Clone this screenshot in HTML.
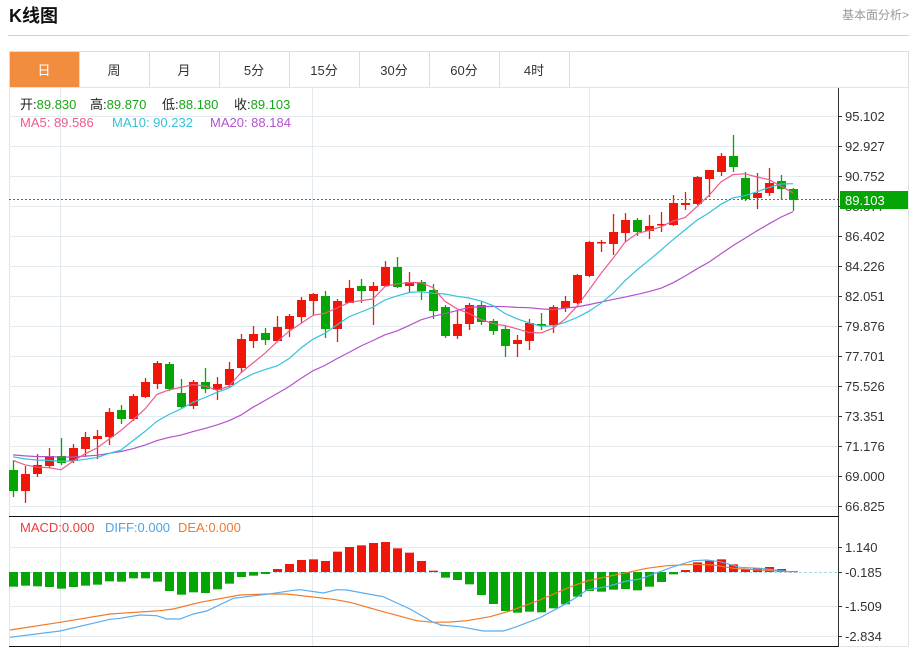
<!DOCTYPE html>
<html><head><meta charset="utf-8">
<style>
body{margin:0;background:#fff;width:916px;height:647px;overflow:hidden;font-family:"Liberation Sans","Noto Sans CJK SC",sans-serif;}
svg{position:absolute;left:0;top:0}
</style></head>
<body>
<svg id="s" width="916" height="647" xmlns="http://www.w3.org/2000/svg" font-family="Liberation Sans, Noto Sans CJK SC, sans-serif">
<text x="9" y="22" font-size="18" font-weight="bold" fill="#111">K线图</text>
<text x="842" y="19" font-size="12" fill="#999">基本面分析&gt;</text>
<line x1="8" y1="35.5" x2="909" y2="35.5" stroke="#d0d0d0"/>
<rect x="9.5" y="51.5" width="899" height="36" fill="#fff" stroke="#ddd"/>
<rect x="10" y="52" width="69" height="35" fill="#f28c3f"/>
<g stroke="#ddd"><line x1="79.5" y1="52" x2="79.5" y2="87"/><line x1="149.5" y1="52" x2="149.5" y2="87"/><line x1="219.5" y1="52" x2="219.5" y2="87"/><line x1="289.5" y1="52" x2="289.5" y2="87"/><line x1="359.5" y1="52" x2="359.5" y2="87"/><line x1="429.5" y1="52" x2="429.5" y2="87"/><line x1="499.5" y1="52" x2="499.5" y2="87"/><line x1="569.5" y1="52" x2="569.5" y2="87"/></g>
<g font-size="13" text-anchor="middle" fill="#333">
<text x="44" y="75" fill="#fff">日</text><text x="114" y="75">周</text><text x="184" y="75">月</text><text x="254" y="75">5分</text><text x="324" y="75">15分</text><text x="394" y="75">30分</text><text x="464" y="75">60分</text><text x="534" y="75">4时</text>
</g>
<rect x="9.5" y="87.5" width="899" height="559" fill="none" stroke="#e4e4e4"/>
<g id="grid"></g>
<g id="plot"></g>
<line x1="838.5" y1="88" x2="838.5" y2="647" stroke="#333"/>
<line x1="9" y1="516.5" x2="838" y2="516.5" stroke="#111"/>
<line x1="9" y1="646.5" x2="838" y2="646.5" stroke="#111"/>
<g font-size="13">
<text x="20" y="109" fill="#222">开:<tspan fill="#1aa51a">89.830</tspan></text>
<text x="90" y="109" fill="#222">高:<tspan fill="#1aa51a">89.870</tspan></text>
<text x="162" y="109" fill="#222">低:<tspan fill="#1aa51a">88.180</tspan></text>
<text x="234" y="109" fill="#222">收:<tspan fill="#1aa51a">89.103</tspan></text>
<text x="20" y="127" fill="#ef5b8a">MA5: 89.586</text>
<text x="112" y="127" fill="#33c3da">MA10: 90.232</text>
<text x="210" y="127" fill="#b452cc">MA20: 88.184</text>
<text x="20" y="532" fill="#ef3b3b">MACD:0.000</text>
<text x="105" y="532" fill="#4aa3e8">DIFF:0.000</text>
<text x="178" y="532" fill="#f07a28">DEA:0.000</text>
</g>
<g id="axis" font-size="13" fill="#333"></g>
</svg>
<script>
var NS="http://www.w3.org/2000/svg";
function el(p,t,a){var e=document.createElementNS(NS,t);for(var k in a)e.setAttribute(k,a[k]);p.appendChild(e);return e;}
var grid=document.getElementById('grid'),plot=document.getElementById('plot'),axis=document.getElementById('axis');
var labels=["95.102","92.927","90.752","88.577","86.402","84.226","82.051","79.876","77.701","75.526","73.351","71.176","69.000","66.825"];
for(var i=0;i<14;i++){var y=116+30*i;el(grid,'line',{x1:9,y1:y+.5,x2:838,y2:y+.5,stroke:'#e3ebf1'});el(axis,'line',{x1:838,y1:y+.5,x2:842,y2:y+.5,stroke:'#333'});var t=el(axis,'text',{x:845,y:y+5});t.textContent=labels[i];}
[[547,"1.140"],[606,"-1.509"],[636,"-2.834"]].forEach(function(a){el(grid,'line',{x1:9,y1:a[0]+.5,x2:838,y2:a[0]+.5,stroke:'#e3ebf1'});el(axis,'line',{x1:838,y1:a[0]+.5,x2:842,y2:a[0]+.5,stroke:'#333'});var t=el(axis,'text',{x:845,y:a[0]+5});t.textContent=a[1];});
el(axis,'line',{x1:838,y1:572.5,x2:842,y2:572.5,stroke:'#333'});var t0=el(axis,'text',{x:845,y:577});t0.textContent="-0.185";
[60.5,312.5,589.5].forEach(function(x){el(grid,'line',{x1:x,y1:88,x2:x,y2:646,stroke:'#e3ebf1'});});
el(grid,'line',{x1:9,y1:572.5,x2:838,y2:572.5,stroke:'#a8d8f0','stroke-dasharray':'3,2'});
// candles: [color(1=red up,0=green down), bodyTop, bodyBot, high, low]
var C=[[0,470,491,460,497],[1,474,491,466,503],[1,465,474,454,477],[1,456,466,448,468],[0,456,463,438,465],[1,448,461,444,463],[1,437,449,432,457],[1,436,439,430,459],[1,412,437,408,445],[0,410,419,405,424],
[1,396,419,394,421],[1,382,397,378,398],[1,363,384,361,389],[0,364,389,362,391],[0,393,407,379,408],[1,382,406,380,409],[0,382,389,368,393],[1,384,390,377,400],[1,369,385,362,388],[1,339,368,334,373],
[1,334,341,326,348],[0,333,340,328,345],[1,327,341,316,341],[1,316,329,314,337],[1,300,317,297,323],[1,294,301,293,315],[0,296,329,291,338],[1,301,329,299,342],[1,288,303,280,303],[0,286,291,279,303],
[1,286,291,282,325],[1,267,286,261,287],[0,267,287,257,288],[1,282,286,272,293],[0,282,291,280,300],[0,290,311,284,319],[0,307,336,305,338],[1,324,336,310,339],[1,305,324,303,330],[0,305,322,301,325],
[0,321,331,319,335],[0,329,346,326,357],[1,340,344,335,357],[1,323,341,319,350],[0,324,325,313,330],[1,307,325,305,333],[1,301,308,296,312],[1,275,303,274,304],[1,242,276,241,277],[1,242,243,240,252],
[1,232,244,214,255],[1,220,233,213,242],[0,220,232,218,236],[1,226,231,215,239],[1,224,225,212,232],[1,203,225,195,226],[1,203,205,192,210],[1,177,204,176,205],[1,170,179,170,197],[1,156,172,153,176],
[0,156,167,135,172],[0,178,199,172,201],[1,193,198,173,209],[1,183,193,168,196],[0,181,189,175,200],[0,189,200,188,211]];
var X=function(i){return 13+12*i;};
var closes=[];for(var k=0;k<19;k++)closes.push(452+ (k%3));
C.forEach(function(c){closes.push(c[0]?c[1]:c[2]);});
function ma(n){var pts=[];for(var i=0;i<C.length;i++){var j=i+19,s=0;for(var q=0;q<n;q++)s+=closes[j-q];pts.push(X(i)+','+(s/n).toFixed(1));}return pts.join(' ');}
C.forEach(function(c,i){var col=c[0]?'#f0170a':'#05a505';var x=X(i);
el(plot,'line',{x1:x+.5,y1:c[3],x2:x+.5,y2:c[4],stroke:col,'stroke-width':1.3});
el(plot,'rect',{x:x-4,y:c[1],width:9,height:Math.max(1.5,c[2]-c[1]),fill:col});});
el(plot,'polyline',{points:ma(20),fill:'none',stroke:'#b452cc','stroke-width':1.2});
el(plot,'polyline',{points:ma(10),fill:'none',stroke:'#33c3da','stroke-width':1.2});
el(plot,'polyline',{points:ma(5),fill:'none',stroke:'#ef5b8a','stroke-width':1.2});
el(plot,'line',{x1:9,y1:199.5,x2:838,y2:199.5,stroke:'#22a022','stroke-dasharray':'2,2'});
el(axis,'text',{x:845,y:211,fill:'#555'}).textContent="88.577";
el(axis,'rect',{x:840,y:191,width:68,height:18,fill:'#05a505'});
el(axis,'text',{x:845,y:205,fill:'#fff'}).textContent="89.103";
// MACD bars (py in zoom coords, y=505+py/3)
var M=[245,242,244,246,251,246,242,239,229,230,220,220,230,258,269,262,264,253,236,216,212,207,192,177,165,163,168,140,126,121,114,111,130,143,168,197,218,225,238,270,297,318,323,320,322,310,298,275,258,260,254,252,256,245,231,208,195,172,167,163,178,193,190,186,192,199];
M.forEach(function(p,i){var y=505+p/3,z=572;var col=y<z?'#f0170a':'#05a505';el(plot,'rect',{x:X(i)-4,y:Math.min(y,z),width:9,height:Math.max(0.8,Math.abs(y-z)),fill:col});});
function line(pts,off,col){var s=pts.map(function(p){return (off+p[0]/3).toFixed(1)+','+(505+p[1]/3).toFixed(1);}).join(' ');el(plot,'polyline',{points:s,fill:'none',stroke:col,'stroke-width':1.2});}
var D1=[[30,397],[180,378],[330,343],[360,340],[420,330],[470,332],[500,342],[540,342],[580,327],[620,318],[700,280],[800,268],[880,256],[900,254],[970,264],[1010,254],[1040,255],[1150,275],[1230,312],[1300,352],[1330,362]];
var D2=[[0,360],[60,365],[130,378],[190,378],[230,365],[300,338],[380,295],[420,270],[440,255],[500,245],[560,228],[600,222],[660,200],[700,185],[760,167],[800,165],[840,170],[900,187],[960,190],[1050,200]];
var E1=[[30,375],[180,352],[330,327],[480,317],[520,312],[600,292],[720,270],[800,267],[860,267],[1000,283],[1050,292],[1150,320],[1250,347],[1300,352]];
var E2=[[30,351],[80,347],[150,335],[210,318],[300,285],[380,250],[420,235],[440,228],[500,215],[560,203],[620,190],[680,182],[760,178],[820,180],[880,190],[960,195],[1050,200]];
var dpts=D1.map(function(p){return [p[0],p[1]];}).concat(D2.map(function(p){return [p[0]+1320,p[1]];}));
var epts=E1.concat(E2.map(function(p){return [p[0]+1320,p[1]];}));
line(epts,0,'#f07a28');line(dpts,0,'#5aaef0');
</script>
</body></html>
